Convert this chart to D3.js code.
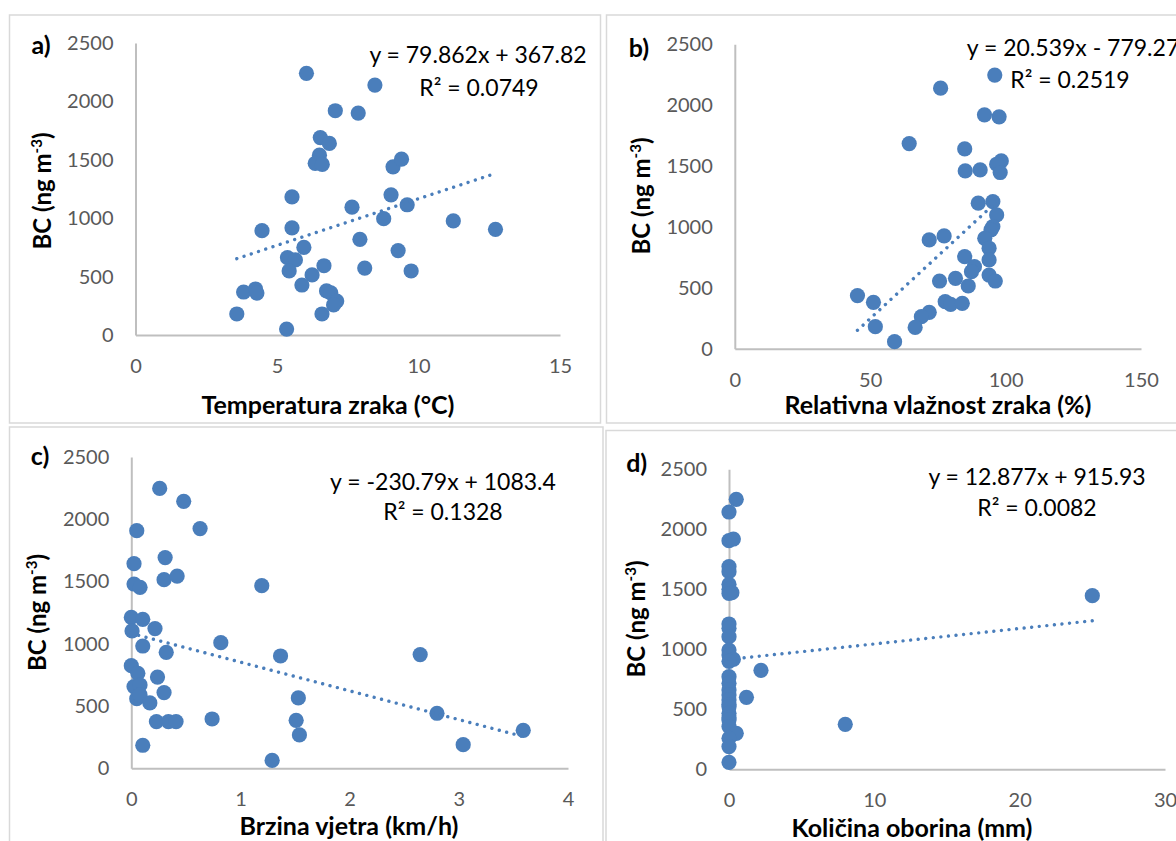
<!DOCTYPE html>
<html><head><meta charset="utf-8">
<script src="https://cdn.jsdelivr.net/npm/d3@7"></script>
<style>
body{margin:0;background:#fff;overflow:hidden}
svg{display:block}
text{font-family:Lato,"Open Sans",sans-serif}
</style>
</head><body>
<svg id="chart" width="1176" height="841"></svg>
<script>
// ---------- data ----------
const tempX = [6.04, 8.46, 7.06, 7.87, 6.53, 6.85, 6.5, 6.35, 6.6, 9.1, 9.4, 5.53, 9.03, 7.65, 9.6, 8.77, 11.23, 12.72, 4.47, 5.53, 7.93, 5.95, 9.28, 5.37, 5.65, 6.66, 8.1, 9.74, 5.43, 6.24, 5.88, 3.82, 4.24, 4.29, 6.75, 6.9, 7.11, 7.0, 3.58, 6.59, 5.34];
const tempBC = [2240, 2140, 1920, 1900, 1690, 1640, 1540, 1470, 1460, 1440, 1505, 1182, 1200, 1094, 1115, 996, 977, 905, 893, 918, 819, 750, 723, 662, 643, 593, 573, 548, 548, 514, 428, 368, 394, 359, 377, 360, 291, 257, 180, 180, 51];

const humX = [96.0, 76.0, 92.2, 97.6, 64.4, 84.9, 98.4, 96.7, 85.1, 90.6, 98.0, 89.9, 95.3, 96.7, 95.3, 94.6, 71.8, 77.3, 92.3, 93.9, 84.9, 93.9, 88.5, 87.4, 75.6, 81.5, 93.9, 96.2, 86.2, 45.3, 51.2, 77.7, 79.7, 84.0, 71.8, 68.9, 51.9, 66.6, 59.0];
const humBC = [2247, 2140, 1921, 1904, 1685, 1641, 1542, 1515, 1460, 1468, 1447, 1195, 1208, 1099, 1003, 975, 893, 926, 907, 825, 756, 729, 674, 633, 556, 578, 605, 556, 515, 436, 381, 386, 364, 373, 299, 263, 181, 175, 58];

const windX = [0.26, 0.48, 0.05, 0.63, 0.31, 0.025, 0.025, 0.08, 0.30, 0.42, 1.195, 0.0, 0.105, 0.007, 0.217, 0.105, 0.32, 0.82, 1.367, 2.646, 0.0, 0.06, 0.24, 0.025, 0.08, 0.05, 0.08, 0.30, 0.17, 1.53, 0.23, 0.34, 0.41, 0.74, 1.51, 1.54, 2.80, 3.59, 3.04, 0.105, 1.29];
const windBC = [2248, 2144, 1908, 1925, 1692, 1643, 1480, 1453, 1515, 1544, 1467, 1212, 1196, 1103, 1122, 982, 931, 1009, 902, 913, 824, 763, 733, 656, 669, 559, 589, 608, 525, 565, 375, 375, 375, 396, 385, 268, 442, 305, 190, 185, 64];

const rainX = [0.5, 0, 0, 0.3, 0, 0, 0, 0, 0.2, 0, 0, 0, 0, 0, 0, 0.3, 0, 2.2, 1.2, 8, 25, 0, 0, 0, 0, 0, 0, 0, 0, 0, 0, 0, 0.5, 0, 0, 0];
const rainBC = [2250, 2144, 1905, 1919, 1689, 1647, 1542, 1500, 1472, 1465, 1211, 1175, 1105, 994, 953, 917, 900, 825, 600, 375, 1447, 772, 717, 661, 620, 578, 540, 522, 467, 430, 411, 356, 300, 258, 189, 58];

const panelLetters = ["a)", "b)", "c)", "d)"];
const xTitles = ["Temperatura zraka (°C)", "Relativna vlažnost zraka (%)", "Brzina vjetra (km/h)", "Količina oborina (mm)"];
const yTitleMain = "BC (ng m";
const yTitleSup = "-3";
const yTickValues = [0, 500, 1000, 1500, 2000, 2500];
const xTickSets = [[0, 5, 10, 15], [0, 50, 100, 150], [0, 1, 2, 3, 4], [0, 10, 20, 30]];
const slopes = [79.862, 20.539, -230.79, 12.877];
const intercepts = [367.82, -779.27, 1083.4, 915.93];
const eqLabels = ["y = 79.862x + 367.82", "y = 20.539x - 779.27", "y = -230.79x + 1083.4", "y = 12.877x + 915.93"];
const r2Labels = ["R² = 0.0749", "R² = 0.2519", "R² = 0.1328", "R² = 0.0082"];
const xSeries = [tempX, humX, windX, rainX];
const ySeries = [tempBC, humBC, windBC, rainBC];

// ---------- layout ----------
const layouts = [
  {frame:[9.5,15,591,408], x0:135.5, x1:560, y0:335, y1:43, letter:[41,45], yTitle:[43,191], xTitle:[328,405], eq:[478,55], r2:[479,88]},
  {frame:[606.5,15,600,408], x0:734.8, x1:1141, y0:348.7, y1:44.3, letter:[639,48], yTitle:[641.5,196], xTitle:[938,405], eq:[1073,48], r2:[1070,80]},
  {frame:[9.5,427,593.5,430], x0:131.3, x1:568, y0:768.3, y1:457, letter:[40,456.7], yTitle:[38,612.5], xTitle:[349,826.7], eq:[443,481.7], r2:[443,511.7]},
  {frame:[606,430.5,600,430], x0:729, x1:1165, y0:769.3, y1:469.3, letter:[636.7,463], yTitle:[636.7,619], xTitle:[912,828], eq:[1037,476.7], r2:[1037,508]}
];

const BLUE = "#4a7ebb";
const svg = d3.select("#chart");

layouts.forEach((L, i) => {
  const g = svg.append("g");
  g.append("rect").attr("x", L.frame[0]).attr("y", L.frame[1])
    .attr("width", L.frame[2]).attr("height", L.frame[3])
    .attr("fill", "#fff").attr("stroke", "#d9d9d9").attr("stroke-width", 1.5);

  const xt = xTickSets[i];
  const x = d3.scaleLinear().domain([xt[0], xt[xt.length - 1]]).range([L.x0, L.x1]);
  const y = d3.scaleLinear().domain([0, 2500]).range([L.y0, L.y1]);

  const yAx = g.append("g").attr("transform", `translate(${L.x0},0)`)
    .call(d3.axisLeft(y).tickValues(yTickValues).tickSize(0).tickPadding(22).tickFormat(d3.format("d")));
  const xAx = g.append("g").attr("transform", `translate(0,${L.y0})`)
    .call(d3.axisBottom(x).tickValues(xt).tickSize(0).tickPadding(24).tickFormat(d3.format("d")));
  [yAx, xAx].forEach(a => {
    a.select(".domain").attr("stroke", "#bfbfbf").attr("stroke-width", 2);
    a.selectAll("text").attr("fill", "#595959").style("font-size", "20px").style("font-family", "Lato");
  });

  // points
  const xs = xSeries[i], ys = ySeries[i];
  g.append("g").selectAll("circle").data(xs.map((d, k) => [d, ys[k]])).join("circle")
    .attr("cx", d => x(d[0])).attr("cy", d => y(d[1])).attr("r", 7.6).attr("fill", BLUE);

  // trendline
  const xmin = d3.min(xs), xmax = d3.max(xs);
  g.append("line")
    .attr("x1", x(xmin)).attr("y1", y(slopes[i] * xmin + intercepts[i]))
    .attr("x2", x(xmax)).attr("y2", y(slopes[i] * xmax + intercepts[i]))
    .attr("stroke", BLUE).attr("stroke-width", 3.4).attr("stroke-linecap", "round")
    .attr("stroke-dasharray", "0.01 7.6");

  // labels
  g.append("text").attr("x", L.letter[0]).attr("y", L.letter[1]).attr("dy", "0.35em")
    .attr("text-anchor", "middle").style("font-size", "25px").style("font-weight", 700)
    .attr("fill", "#000").text(panelLetters[i]);

  g.append("text").attr("x", L.xTitle[0]).attr("y", L.xTitle[1]).attr("dy", "0.35em")
    .attr("text-anchor", "middle").style("font-size", "25px").style("font-weight", 700)
    .attr("fill", "#000").text(xTitles[i]);

  const yt = g.append("text").attr("transform", `translate(${L.yTitle[0]},${L.yTitle[1]}) rotate(-90)`)
    .attr("dy", "0.35em").attr("text-anchor", "middle").style("font-size", "24px")
    .style("font-weight", 700).attr("fill", "#000");
  yt.append("tspan").text(yTitleMain);
  yt.append("tspan").attr("dy", -9).style("font-size", "15px").text(yTitleSup);
  yt.append("tspan").attr("dy", 9).text(")");

  g.append("text").attr("x", L.eq[0]).attr("y", L.eq[1]).attr("dy", "0.35em")
    .attr("text-anchor", "middle").style("font-size", "23px").attr("fill", "#000").text(eqLabels[i]);
  g.append("text").attr("x", L.r2[0]).attr("y", L.r2[1]).attr("dy", "0.35em")
    .attr("text-anchor", "middle").style("font-size", "23px").attr("fill", "#000").text(r2Labels[i]);
});
</script>
</body></html>
